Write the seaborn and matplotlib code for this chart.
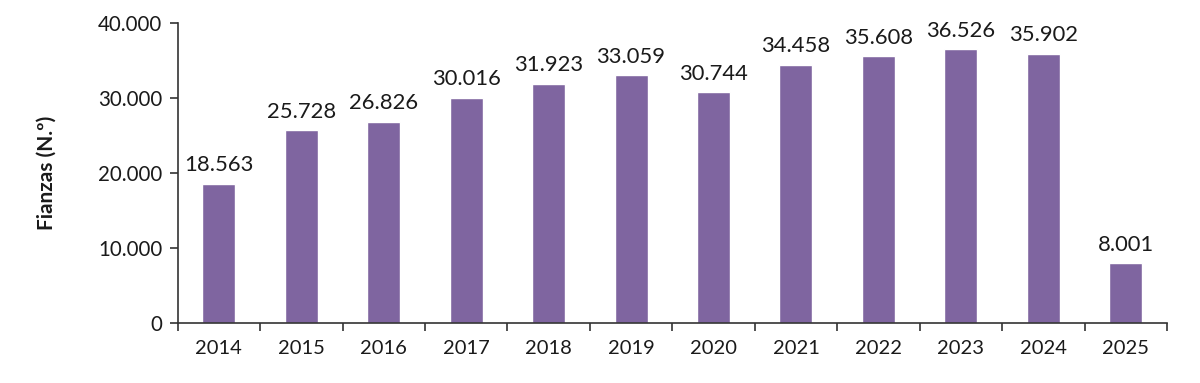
import numpy as np
import pandas as pd
import matplotlib
matplotlib.use("Agg")
import matplotlib.pyplot as plt
import seaborn as sns
from matplotlib.ticker import FuncFormatter

years = ["2014", "2015", "2016", "2017", "2018", "2019", "2020",
         "2021", "2022", "2023", "2024", "2025"]
fianzas = [18563, 25728, 26826, 30016, 31923, 33059, 30744,
           34458, 35608, 36526, 35902, 8001]

df = pd.DataFrame({"year": years, "fianzas": fianzas})

def miles(v):
    return f"{int(v):,}".replace(",", ".")

sns.set_theme(style="white")
plt.rcParams["font.family"] = ["Lato", "DejaVu Sans"]

fig = plt.figure(figsize=(12, 3.83), dpi=100)
ax = fig.add_axes([0.148, 0.157, 0.8245, 0.783])

sns.barplot(data=df, x="year", y="fianzas", color="#7f65a0",
            width=0.4, saturation=1, ax=ax)

# etiquetas de valor encima de cada barra
for i, v in enumerate(fianzas):
    ax.annotate(miles(v), (i, v), xytext=(0, 6), textcoords="offset points",
                ha="center", va="bottom", fontsize=15.8, color="#1a1a1a")

ax.set_ylim(0, 40000)
ax.set_xlim(-0.5, len(years) - 0.5)
ax.set_yticks([0, 10000, 20000, 30000, 40000])
ax.yaxis.set_major_formatter(FuncFormatter(lambda v, p: miles(v)))

# ticks del eje x entre categorías
ax.set_xticks(np.arange(len(years)))
ax.set_xticks(np.arange(-0.5, len(years)), minor=True)
ax.tick_params(axis="x", which="major", length=0, pad=12, labelsize=14.5, colors="#1a1a1a")
ax.tick_params(axis="x", which="minor", length=6, width=1.2, color="#333333", bottom=True)
ax.tick_params(axis="y", length=6, width=1.2, color="#333333", left=True,
               labelsize=14.8, labelcolor="#1a1a1a", pad=5)

for s in ["top", "right"]:
    ax.spines[s].set_visible(False)
for s in ["left", "bottom"]:
    ax.spines[s].set_color("#333333")
    ax.spines[s].set_linewidth(1.2)

ax.set_xlabel("")
ax.set_ylabel("Fianzas (N.º)", fontsize=15, fontweight="bold", labelpad=30, color="#1a1a1a")

fig.savefig("out.png", dpi=100)
